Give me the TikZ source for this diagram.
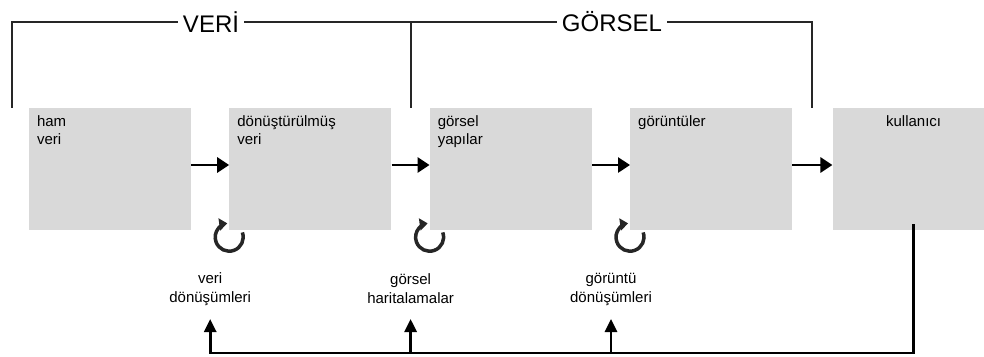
\documentclass[tikz,border=0pt]{standalone}
\usepackage{fontspec}
\setmainfont{Liberation Sans}
\usetikzlibrary{positioning,arrows.meta,calc}
\definecolor{kutugri}{RGB}{217,217,217}
\definecolor{cizgi}{RGB}{38,38,38}
\newcommand{\dongu}[1]{\draw[don] ([yshift=-7pt,shift={(20:14pt)}]#1) arc[start angle=20,end angle=-262,radius=14pt];}

\begin{document}
\begin{tikzpicture}[x=1pt,y=-1pt,%
  kutu/.style={fill=kutugri,minimum width=162pt,minimum height=122pt,inner sep=0pt},%
  yazi/.style={font=\fontsize{15}{18}\selectfont,align=left,inner xsep=8pt,inner ysep=8pt},%
  etiket/.style={font=\fontsize{15}{19}\selectfont,align=center},%
  baslik/.style={font=\fontsize{24}{26}\selectfont,inner xsep=5pt},%
  arr/.style={-{Triangle[length=12pt,width=15pt]},line width=2.8pt},%
  yukari/.style={-{Triangle[length=13pt,width=12pt]},line width=2.8pt},%
  don/.style={-{Triangle[length=8pt,width=12pt]},line width=3.5pt,draw=cizgi},%
  kose/.style={line width=2pt,draw=cizgi}%
  ]
  \clip (0,0) rectangle (984,356);
  \node[kutu] (ham) at (110,169) {};
  \node[kutu] (dtv) [right=38pt of ham] {};
  \node[kutu] (gy)  [right=38pt of dtv] {};
  \node[kutu] (gt)  [right=38pt of gy] {};
  \node[kutu] (kul) [right=40pt of gt] {};
%
  \node[yazi] (hamy) [below right=0pt of ham.north west] {ham\\veri};
  \node[yazi] (dtvy) [below right=0pt of dtv.north west] {dönüştürülmüş\\veri};
  \node[yazi] (gyy)  [below right=0pt of gy.north west]  {görsel\\yapılar};
  \node[yazi] (gty)  [below right=0pt of gt.north west]  {görüntüler};
  \node[yazi] (kuly) [below=0pt of kul.north] {kullanıcı};
%
  \coordinate (g0) at ($(ham.west)-(17,0)$);
  \coordinate (g1) at ($(ham.east)!0.5!(dtv.west)$);
  \coordinate (g2) at ($(dtv.east)!0.5!(gy.west)$);
  \coordinate (g3) at ($(gy.east)!0.5!(gt.west)$);
  \coordinate (g4) at ($(gt.east)!0.5!(kul.west)$);
%
  \draw[arr] ([yshift=4pt]ham.east) -- ([yshift=4pt]dtv.west);
  \draw[arr] ([yshift=4pt]dtv.east) -- ([yshift=4pt]gy.west);
  \draw[arr] ([yshift=4pt]gy.east) -- ([yshift=4pt]gt.west);
  \draw[arr] ([yshift=4pt]gt.east) -- ([yshift=4pt]kul.west);
%
  \dongu{dtv.south west}
  \dongu{gy.south west}
  \dongu{gt.south west}
%
  \node[etiket] (vd) at ([yshift=-120pt]g1) {veri\\dönüşümleri};
  \node[etiket] (gh) at ([yshift=-120pt]g2) {görsel\\haritalamalar};
  \node[etiket] (gd) at ([yshift=-120pt]g3) {görüntü\\dönüşümleri};
%
  \node[baslik] (veri) at (211,22) {VERİ};
  \node[baslik] (gor)  at (612,22) {GÖRSEL};
  \draw[kose] (g0 |- ham.north) |- (veri);
  \draw[kose] (veri) -- (gor);
  \draw[kose] (gor) -| (g4 |- kul.north);
  \draw[kose] (g2 |- dtv.north) -- (g2 |- veri);
%
  \coordinate (taban) at (0,353);
  \coordinate (uc) at (0,319);
  \draw[yukari] ([yshift=6pt]kul.south) |- (g1 |- taban) -- (g1 |- uc);
  \draw[yukari] (g2 |- taban) -- (g2 |- uc);
  \draw[yukari] (g3 |- taban) -- (g3 |- uc);
\end{tikzpicture}
\end{document}
